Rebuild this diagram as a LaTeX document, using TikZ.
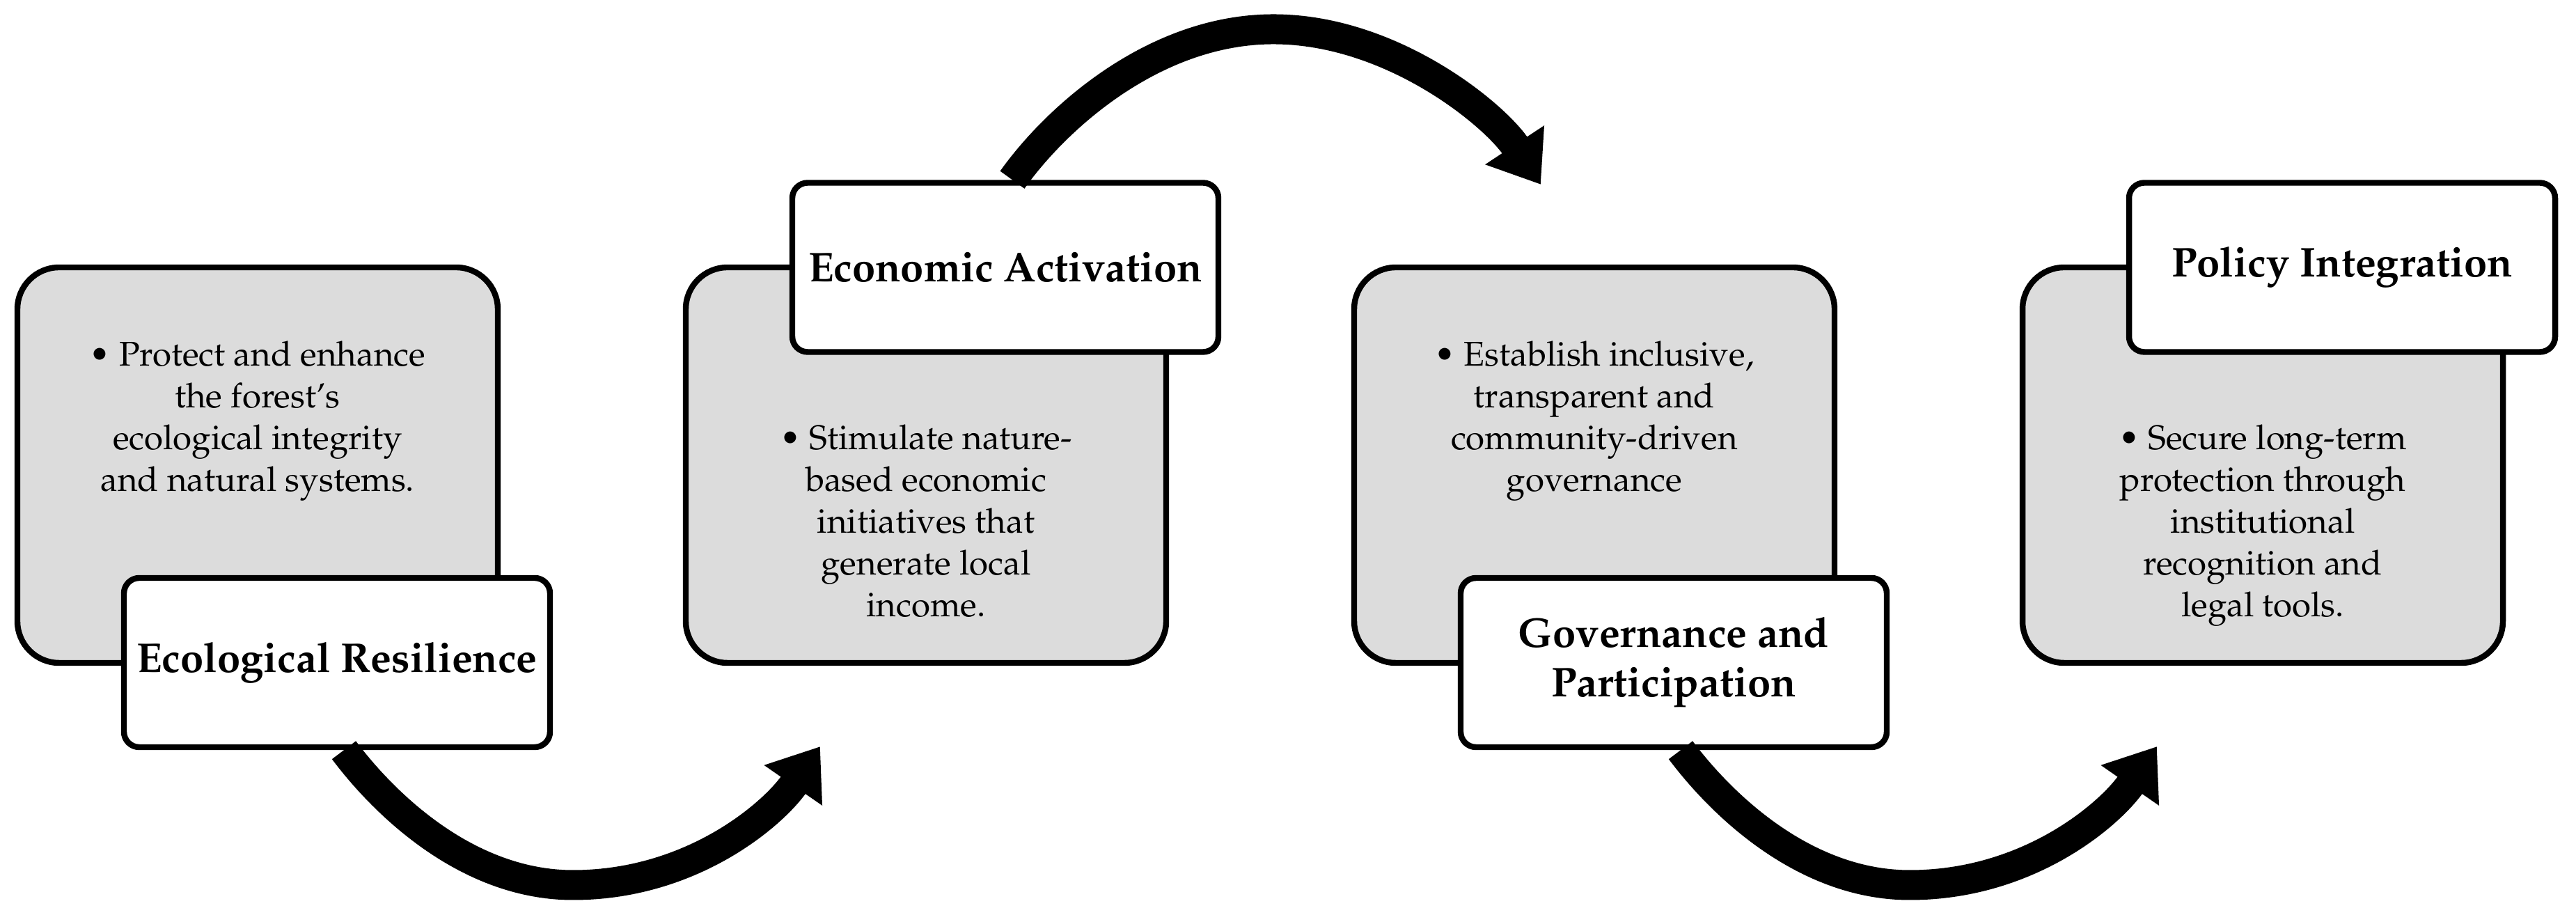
\documentclass[tikz,border=0pt]{standalone}
\usepackage[T1]{fontenc}
\usepackage{mathpazo}
\usetikzlibrary{arrows.meta}
\definecolor{panelgray}{RGB}{220,220,220}

\begin{document}
\begin{tikzpicture}[
	panel/.style={draw, line width=2.4pt, fill=panelgray, rounded corners=0.6cm, minimum width=6.9cm, minimum height=5.68cm},
	tag/.style={draw, line width=2.4pt, fill=white, rounded corners=0.22cm, minimum width=6.12cm, minimum height=2.43cm, align=center, font=\fontsize{17}{20.2}\selectfont\bfseries},
	note/.style={anchor=north, align=center, inner sep=0pt, font=\fontsize{14}{17.1}\selectfont},
	flow/.style={line width=0.43cm, -{Triangle[length=0.68cm, width=0.97cm]}}]
	\useasboundingbox (0,0) rectangle (37,13.14);
	\node[panel] (p1) at (3.70,6.46)  {};
	\node[panel] (p2) at (13.30,6.46) {};
	\node[panel] (p3) at (22.90,6.46) {};
	\node[panel] (p4) at (32.50,6.46) {};
	\node[note] (n1) at (3.70,8.25)  {\textbullet\ Protect and enhance\\ the forest's\\ ecological integrity\\ and natural systems.};
	\node[note] (n2) at (13.30,7.05) {\textbullet\ Stimulate nature-\\ based economic\\ initiatives that\\ generate local\\ income.};
	\node[note] (n3) at (22.90,8.25) {\textbullet\ Establish inclusive,\\ transparent and\\ community-driven\\ governance};
	\node[note] (n4) at (32.50,7.05) {\textbullet\ Secure long-term\\ protection through\\ institutional\\ recognition and\\ legal tools.};
	\node[tag] (eco) at (4.84,3.625)  {Ecological Resilience};
	\node[tag] (econ) at (14.44,9.30) {Economic Activation};
	\node[tag] (gov) at (24.04,3.625) {Governance and\\ Participation};
	\node[tag] (pol) at (33.64,9.30)  {Policy Integration};
	\coordinate (low1) at (8.23,0.43);
	\coordinate (tip1) at (11.78,2.42);
	\coordinate (high2) at (18.29,12.72);
	\coordinate (tip2) at (22.13,10.49);
	\coordinate (low3) at (27.43,0.43);
	\coordinate (tip3) at (30.98,2.42);
	\draw[flow] ([xshift=1mm]eco.south) .. controls +(0.6,-0.8) and +(-1.5,0) .. (low1) .. controls +(1.7,0) and +(-0.68,-0.98) .. (tip1);
	\draw[flow] ([xshift=1mm]econ.north) .. controls +(0.64,0.9) and +(-1.7,0) .. (high2) .. controls +(1.7,0) and +(-0.66,1.0) .. (tip2);
	\draw[flow] ([xshift=1mm]gov.south) .. controls +(0.6,-0.8) and +(-1.5,0) .. (low3) .. controls +(1.7,0) and +(-0.68,-0.98) .. (tip3);
\end{tikzpicture}
\end{document}
